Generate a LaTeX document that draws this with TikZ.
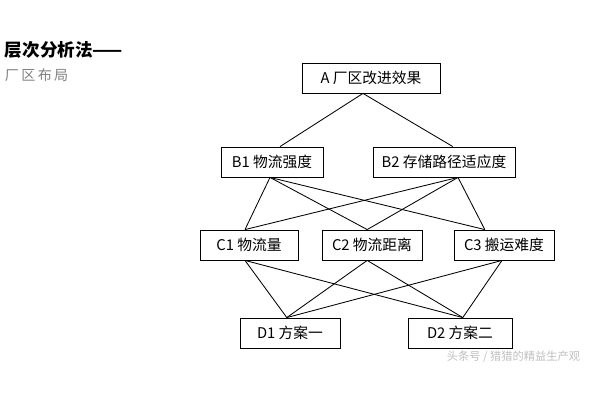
\documentclass[tikz,border=0pt]{standalone}
\usepackage{fontspec}
\setmainfont{Noto Sans CJK SC}
\usetikzlibrary{calc}
\tikzset{%
    box/.style={draw, line width=0.6pt, minimum height=0.75cm, inner sep=1pt, font=\fontsize{10.5}{12}\selectfont},
    con/.style={line width=0.6pt},
}
\begin{document}
\begin{tikzpicture}[x=0.025cm,y=-0.025cm]
    \useasboundingbox (0,0) rectangle (600,400);
    \node[anchor=west, font=\fontsize{12.5}{14}\selectfont\bfseries] (title) at (0,50) {层次分析法——};
    \node[anchor=west, text=gray, font=\fontsize{10}{12}\selectfont] (sub) at (0,75) {厂\,区\,布\,局};
    % boxes
    \node[box, minimum width=3.45cm] (A) at (371,78) {A 厂区改进效果};
    \node[box, minimum width=2.55cm] (B1) at (272,162) {B1 物流强度};
    \node[box, minimum width=3.55cm] (B2) at (444,162) {B2 存储路径适应度};
    \node[box, minimum width=2.45cm] (C1) at (249,245) {C1 物流量};
    \node[box, minimum width=2.5cm] (C2) at (372,245) {C2 物流距离};
    \node[box, minimum width=2.5cm] (C3) at (504,245) {C3 搬运难度};
    \node[box, minimum width=2.5cm] (D1) at (290,333) {D1 方案一};
    \node[box, minimum width=2.6cm] (D2) at (460,333) {D2 方案二};
    % attach points
    \coordinate (a) at ([xshift=-0.2cm]A.south);
    \coordinate (b1t) at ([xshift=0.2cm]B1.north);
    \coordinate (b1b) at ([xshift=-0.05cm]B1.south);
    \coordinate (b2t) at ([xshift=0.22cm]B2.north);
    \coordinate (b2b) at ([xshift=0.35cm]B2.south);
    \coordinate (c1t) at ([xshift=-0.1cm]C1.north);
    \coordinate (c1b) at ([xshift=-0.1cm]C1.south);
    \coordinate (c2t) at ([xshift=-0.12cm]C2.north);
    \coordinate (c2b) at ([xshift=-0.12cm]C2.south);
    \coordinate (c3t) at ([xshift=-0.48cm]C3.north);
    \coordinate (c3b) at ([xshift=-0.05cm]C3.south);
    \coordinate (d1t) at ([xshift=-0.08cm]D1.north);
    \coordinate (d2t) at ([xshift=0.07cm]D2.north);
    % connectors
    \draw[con] (b1t) -- (a) -- (b2t);
    \foreach \c in {c1t,c2t,c3t}{
        \draw[con] (b1b) -- (\c);
        \draw[con] (b2b) -- (\c);
    }
    \foreach \c in {c1b,c2b,c3b}{
        \draw[con] (\c) -- (d1t);
        \draw[con] (\c) -- (d2t);
    }
    \node[anchor=west, text=black!25, font=\fontsize{8}{10}\selectfont] (mark) at (442,357) {头条号 / 猎猎的精益生产观};
\end{tikzpicture}
\end{document}
